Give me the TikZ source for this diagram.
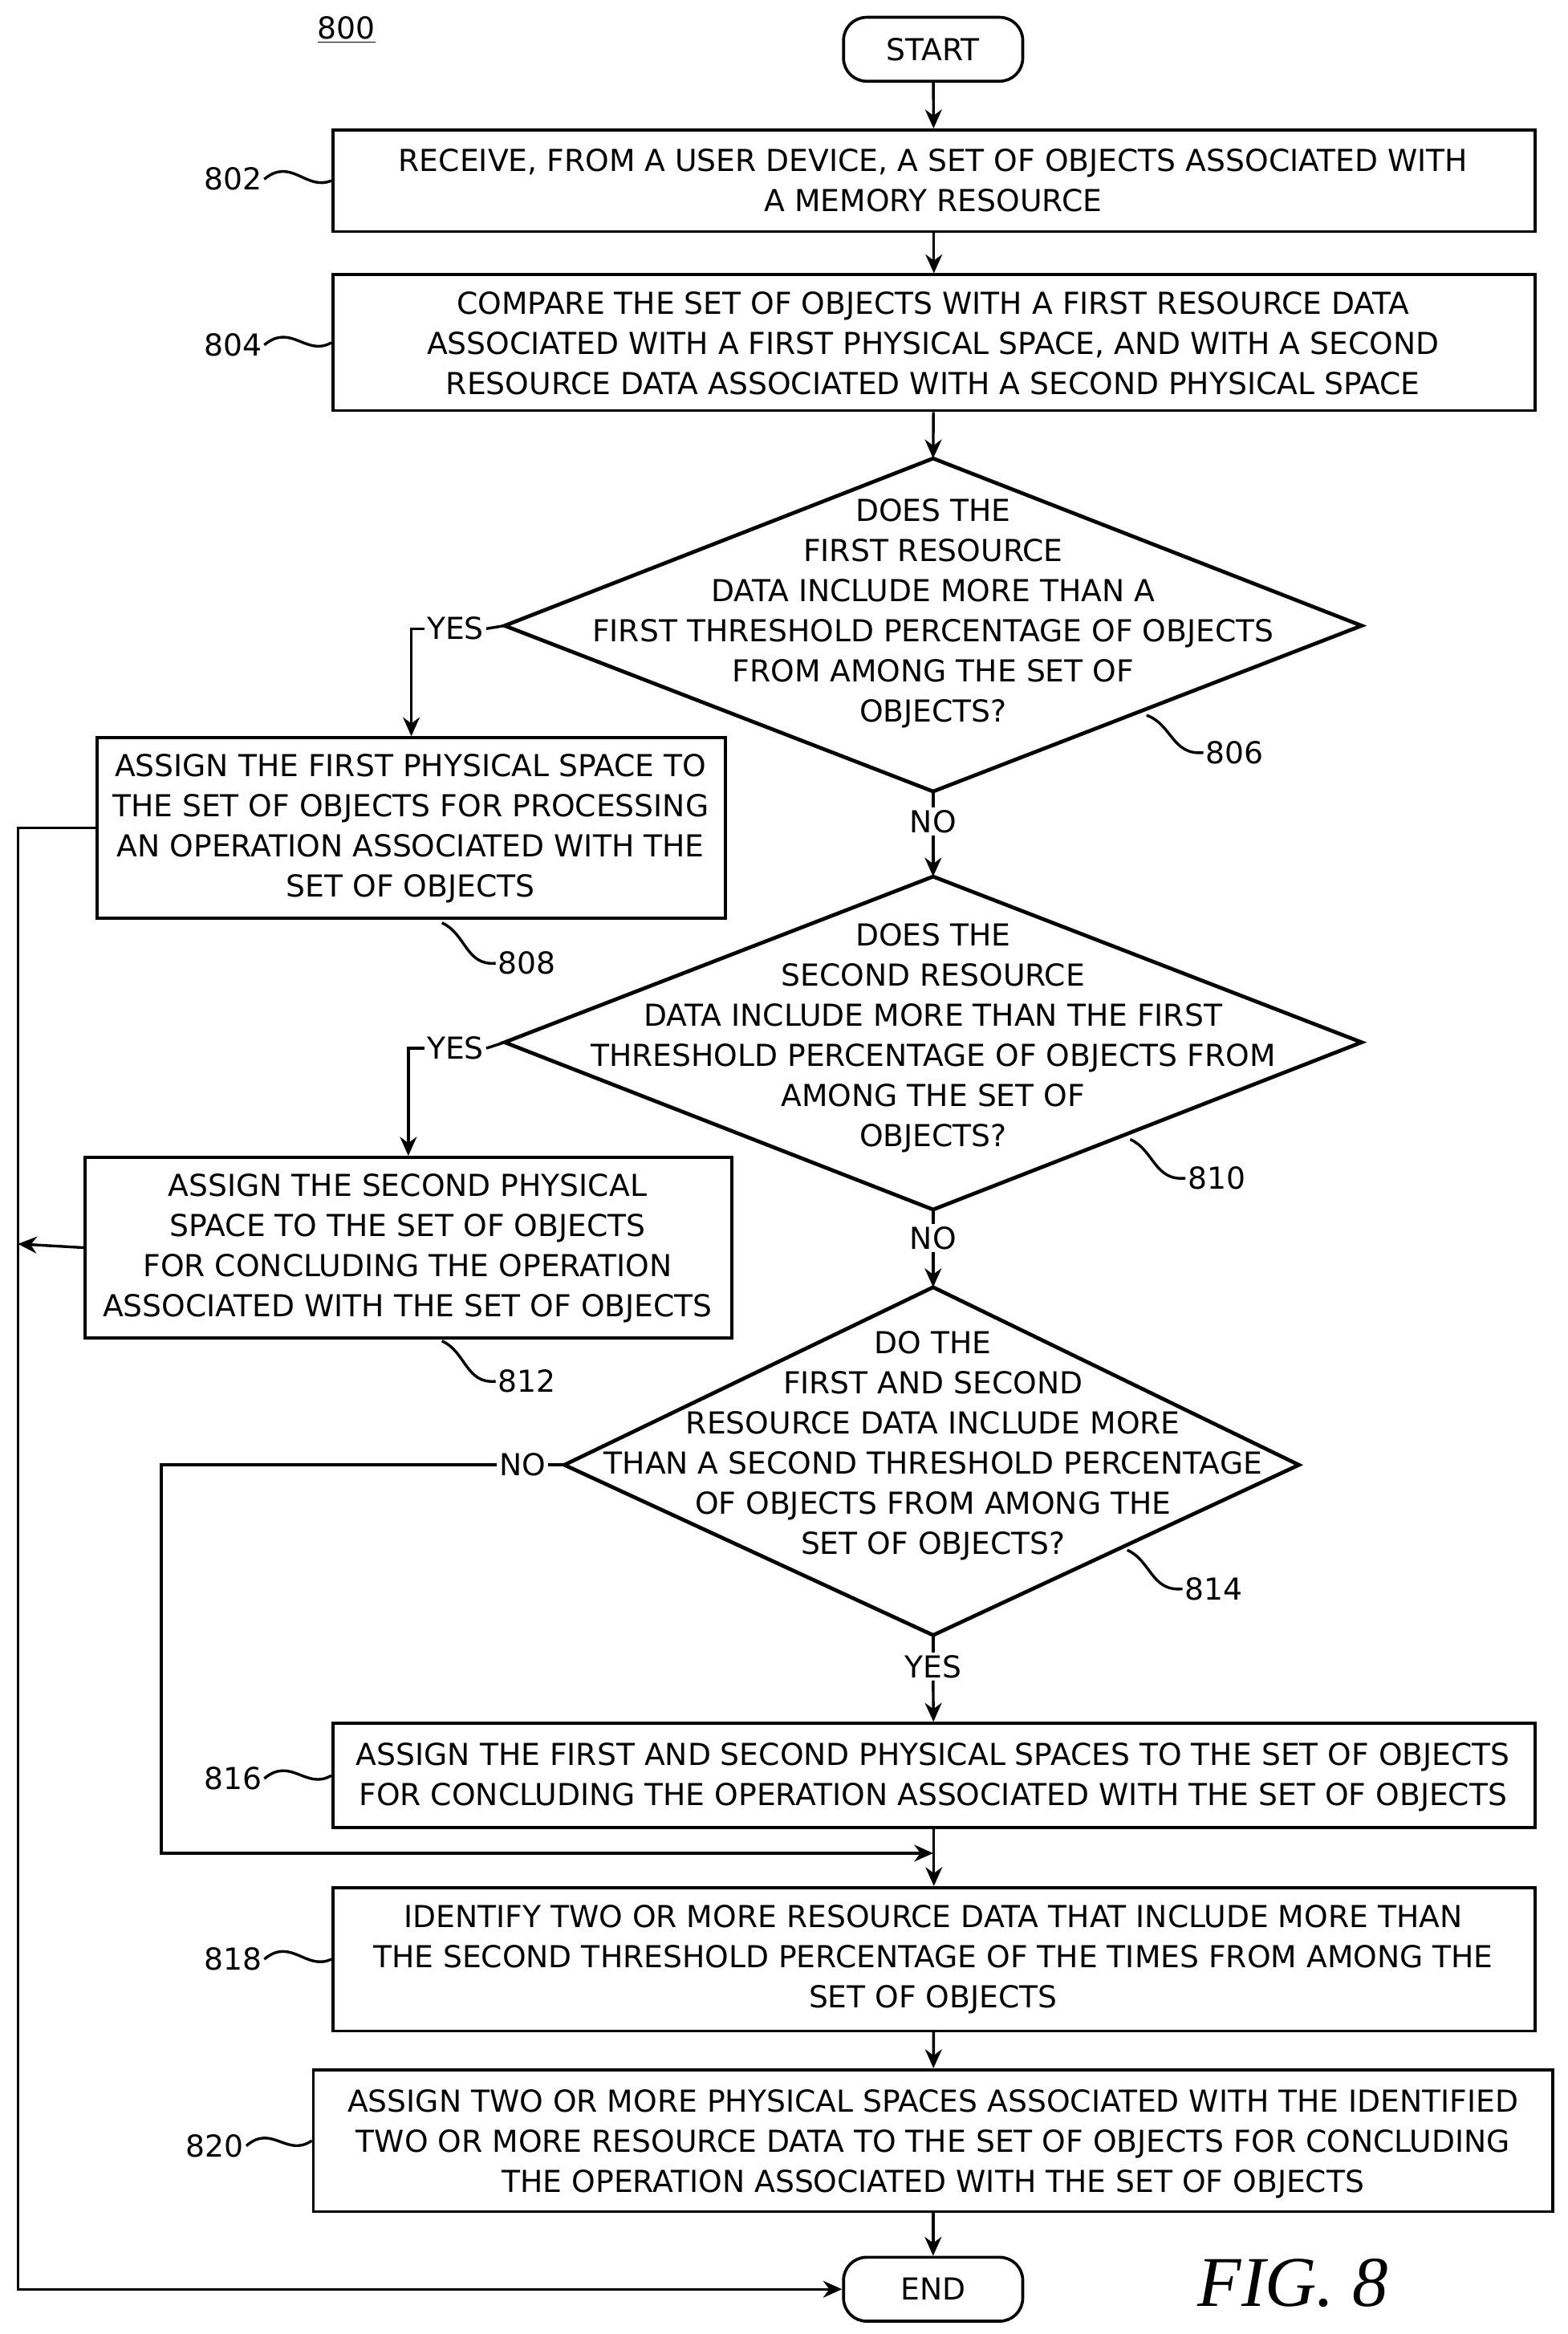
\documentclass[tikz,border=0pt]{standalone}
\usepackage{fontspec}
\setmainfont{DejaVu Sans}
\newfontfamily\figfont{Liberation Serif}
\usetikzlibrary{arrows.meta}
\begin{document}
\begin{tikzpicture}[x=0.025cm,y=-0.025cm,
  txt/.style={align=center,font=\fontsize{14.4}{19.1}\selectfont,inner sep=0pt},
  box/.style={draw,line width=1.4pt,inner sep=0pt},
  term/.style={draw,line width=1.4pt,rounded corners=11pt,minimum width=3cm,minimum height=1.07cm,font=\fontsize{14.4}{15}\selectfont},
  dia/.style={draw,line width=1.8pt},
  con/.style={line width=1.3pt},
  arr/.style={con,-{Stealth[length=9pt,width=8pt]}},
  lab/.style={font=\fontsize{14.4}{15}\selectfont,inner sep=1pt}]
\useasboundingbox (0,0) rectangle (1050,1563);
\node[font=\fontsize{14.4}{15}\selectfont] (n800) at (232,20) {\underline{800}};
\node[term] (start) at (625,33) {START};
\node[box,minimum width=20.125cm,minimum height=1.7cm] (b802) at (625.5,121) {};
\node[txt] (t802) at (625,121) {RECEIVE, FROM A USER DEVICE, A SET OF OBJECTS ASSOCIATED WITH\\A MEMORY RESOURCE};
\node[box,minimum width=20.125cm,minimum height=2.275cm] (b804) at (625.5,229.5) {};
\node[txt] (t804) at (625,230) {COMPARE THE SET OF OBJECTS WITH A FIRST RESOURCE DATA\\ASSOCIATED WITH A FIRST PHYSICAL SPACE, AND WITH A SECOND\\RESOURCE DATA ASSOCIATED WITH A SECOND PHYSICAL SPACE};
% diamond 806
\coordinate (d806t) at (625,307); \coordinate (d806b) at (625,530);
\coordinate (d806l) at (338,419); \coordinate (d806r) at (912,419);
\draw[dia] (d806t)--(d806r)--(d806b)--(d806l)--cycle;
\node[txt] (t806) at (625,411) {DOES THE\\FIRST RESOURCE\\DATA INCLUDE MORE THAN A\\FIRST THRESHOLD PERCENTAGE OF OBJECTS\\FROM AMONG THE SET OF\\OBJECTS?};
\node[box,minimum width=10.525cm,minimum height=3.025cm] (b808) at (275.5,554.5) {};
\node[txt] (t808) at (275,555) {ASSIGN THE FIRST PHYSICAL SPACE TO\\THE SET OF OBJECTS FOR PROCESSING\\AN OPERATION ASSOCIATED WITH THE\\SET OF OBJECTS};
% diamond 810
\coordinate (d810t) at (625,587); \coordinate (d810b) at (625,810);
\coordinate (d810l) at (338,698); \coordinate (d810r) at (912,698);
\draw[dia] (d810t)--(d810r)--(d810b)--(d810l)--cycle;
\node[txt] (t810) at (625,695) {DOES THE\\SECOND RESOURCE\\DATA INCLUDE MORE THAN THE FIRST\\THRESHOLD PERCENTAGE OF OBJECTS FROM\\AMONG THE SET OF\\OBJECTS?};
\node[box,minimum width=10.825cm,minimum height=3.025cm] (b812) at (273.5,835.5) {};
\node[txt] (t812) at (273,836) {ASSIGN THE SECOND PHYSICAL\\SPACE TO THE SET OF OBJECTS\\FOR CONCLUDING THE OPERATION\\ASSOCIATED WITH THE SET OF OBJECTS};
% diamond 814
\coordinate (d814t) at (625,862); \coordinate (d814b) at (625,1095);
\coordinate (d814l) at (378,981); \coordinate (d814r) at (870,981);
\draw[dia] (d814t)--(d814r)--(d814b)--(d814l)--cycle;
\node[txt] (t814) at (625,968) {DO THE\\FIRST AND SECOND\\RESOURCE DATA INCLUDE MORE\\THAN A SECOND THRESHOLD PERCENTAGE\\OF OBJECTS FROM AMONG THE\\SET OF OBJECTS?};
\node[box,minimum width=20.125cm,minimum height=1.75cm] (b816) at (625.5,1189) {};
\node[txt] (t816) at (625,1190) {ASSIGN THE FIRST AND SECOND PHYSICAL SPACES TO THE SET OF OBJECTS\\FOR CONCLUDING THE OPERATION ASSOCIATED WITH THE SET OF OBJECTS};
\node[box,minimum width=20.125cm,minimum height=2.4cm] (b818) at (625.5,1312) {};
\node[txt] (t818) at (625,1312) {IDENTIFY TWO OR MORE RESOURCE DATA THAT INCLUDE MORE THAN\\THE SECOND THRESHOLD PERCENTAGE OF THE TIMES FROM AMONG THE\\SET OF OBJECTS};
\node[box,minimum width=20.75cm,minimum height=2.375cm] (b820) at (625,1433.5) {};
\node[txt] (t820) at (625,1436) {ASSIGN TWO OR MORE PHYSICAL SPACES ASSOCIATED WITH THE IDENTIFIED\\TWO OR MORE RESOURCE DATA TO THE SET OF OBJECTS FOR CONCLUDING\\THE OPERATION ASSOCIATED WITH THE SET OF OBJECTS};
\node[term] (endn) at (625,1533) {END};
\node[font=\figfont\itshape\fontsize{34}{40}\selectfont] (fig) at (866,1529) {FIG. 8};
% connectors
\draw[arr] (start) -- (b802);
\draw[arr] (b802) -- (b804);
\draw[arr] (b804) -- (d806t);
\node[lab] (yes1) at (305,421) {YES};
\draw[con] (d806l) -- (yes1.east);
\draw[arr] (yes1.west) -| (b808.north);
\node[lab,fill=white] (no1) at (625,550) {NO};
\draw[con] (d806b) -- (no1.north);
\draw[arr] (no1.south) -- (d810t);
\node[lab] (yes2) at (305,702) {YES};
\draw[con] (d810l) -- (yes2.east);
\draw[arr] (yes2.west) -| (b812.north);
\node[lab,fill=white] (no2) at (625,829) {NO};
\draw[con] (d810b) -- (no2.north);
\draw[arr] (no2.south) -- (d814t);
\node[lab] (no3) at (350,981) {NO};
\draw[con] (d814l) -- (no3.east);
\coordinate (j816) at (625,1241);
\draw[arr] (no3.west) -| (108,1241) -- (j816);
\node[lab] (yes3) at (625,1116) {YES};
\draw[con] (d814b) -- (yes3.north);
\draw[arr] (yes3.south) -- (b816);
\draw[arr] (b816) -- (b818);
\draw[arr] (b818) -- (b820);
\draw[arr] (b820) -- (endn);
\coordinate (loop) at (12,833);
\draw[arr] (b808.west) -| (12,1533) -- (endn.west);
\draw[arr] (b812.west) -- (loop);
% reference labels
\node[lab,anchor=east] (l802) at (177,120) {802};
\draw[con] (l802.east) .. controls (195,105) and (205,128) .. (b802.west);
\node[lab,anchor=east] (l804) at (177,231) {804};
\draw[con] (l804.east) .. controls (195,216) and (205,239) .. (b804.west);
\node[lab,anchor=west] (l806) at (806,504) {806};
\draw[con] (l806.west) .. controls (785,506) and (785,485) .. (768,479);
\node[lab,anchor=west] (l808) at (332,645) {808};
\draw[con] (l808.west) .. controls (312,647) and (312,625) .. (296,618);
\node[lab,anchor=west] (l810) at (794,789) {810};
\draw[con] (l810.west) .. controls (773,791) and (773,770) .. (757,763);
\node[lab,anchor=west] (l812) at (332,925) {812};
\draw[con] (l812.west) .. controls (312,927) and (312,905) .. (296,898);
\node[lab,anchor=west] (l814) at (792,1064) {814};
\draw[con] (l814.west) .. controls (771,1066) and (771,1045) .. (755,1038);
\node[lab,anchor=east] (l816) at (177,1191) {816};
\draw[con] (l816.east) .. controls (195,1176) and (205,1199) .. (b816.west);
\node[lab,anchor=east] (l818) at (177,1312) {818};
\draw[con] (l818.east) .. controls (195,1297) and (205,1320) .. (b818.west);
\node[lab,anchor=east] (l820) at (165,1437) {820};
\draw[con] (l820.east) .. controls (182,1422) and (192,1445) .. (b820.west);
\end{tikzpicture}
\end{document}
